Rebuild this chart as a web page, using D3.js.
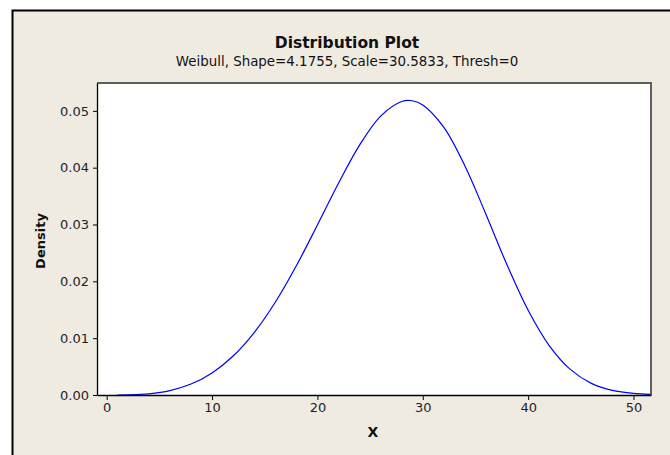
<!DOCTYPE html>
<html lang="en">
<head>
    <meta charset="UTF-8">
    <title>Distribution Plot</title>
    <script src="https://cdn.jsdelivr.net/npm/d3@7"></script>
    <style>
        * { padding: 0; margin: 0; }
        body { background: #fff; }
        svg { display: block; }
        text { font-family: "DejaVu Sans", Verdana, sans-serif; }
    </style>
</head>
<body>
    <div class="context"></div>
    <script>
        // values (x, density)
        let xs = [1, 2, 4, 6, 8, 10, 12, 14, 16, 18, 20, 22, 24, 26, 28, 29, 30, 32, 34, 36, 38, 40, 42, 44, 46, 48, 50, 52];
        let ys = [0.000003, 0.000024, 0.000214, 0.000774, 0.001924, 0.003885, 0.006859, 0.010988, 0.01632, 0.022738,
            0.029907, 0.037254, 0.043964, 0.049075, 0.051652, 0.051771, 0.051041, 0.047095, 0.040313, 0.031774,
            0.022876, 0.014906, 0.008701, 0.004502, 0.002045, 0.000803, 0.00027, 0.000077];
        let xTicks = [0, 10, 20, 30, 40, 50];
        let yTicks = [0, 0.01, 0.02, 0.03, 0.04, 0.05];

        let W = 670, H = 455;
        let plot = { left: 97, top: 83, right: 651, bottom: 395 };

        var svg = d3.select(".context").append("svg")
            .attr("width", W)
            .attr("height", H);

        // beige frame
        svg.append("rect")
            .attr("x", 12.5).attr("y", 10.5)
            .attr("width", W + 20).attr("height", H + 20)
            .attr("fill", "#efebe1")
            .attr("stroke", "#000")
            .attr("stroke-width", 2);

        let x = d3.scaleLinear().domain([-0.92, 51.66]).range([plot.left, plot.right]);
        let y = d3.scaleLinear().domain([0, 0.0549]).range([plot.bottom, plot.top]);

        svg.append("rect")
            .attr("x", plot.left).attr("y", plot.top)
            .attr("width", plot.right - plot.left).attr("height", plot.bottom - plot.top)
            .attr("fill", "#fff");

        svg.append("defs").append("clipPath").attr("id", "clip")
            .append("rect")
            .attr("x", plot.left).attr("y", plot.top)
            .attr("width", plot.right - plot.left).attr("height", plot.bottom - plot.top);

        let pts = xs.map((d, i) => [d, ys[i]]);
        let line = d3.line()
            .x(d => x(d[0]))
            .y(d => y(d[1]))
            .curve(d3.curveCatmullRom);

        svg.append("path")
            .attr("clip-path", "url(#clip)")
            .attr("d", line(pts))
            .attr("fill", "none")
            .attr("stroke", "#0000ff")
            .attr("stroke-width", 1.2);

        // top / right border (grey)
        svg.append("path")
            .attr("d", `M${plot.left},${plot.top}H${plot.right}V${plot.bottom}`)
            .attr("fill", "none")
            .attr("stroke", "#5f5f5f")
            .attr("stroke-width", 2);

        let xAxis = svg.append("g")
            .attr("transform", `translate(0,${plot.bottom})`)
            .call(d3.axisBottom(x).tickValues(xTicks).tickSize(5).tickSizeOuter(0).tickPadding(3).tickFormat(d3.format("d")));

        let yAxis = svg.append("g")
            .attr("transform", `translate(${plot.left},0)`)
            .call(d3.axisLeft(y).tickValues(yTicks).tickSize(4).tickSizeOuter(0).tickPadding(4).tickFormat(d3.format(".2f")));

        [xAxis, yAxis].forEach(g => {
            g.select(".domain").attr("stroke", "#000").attr("stroke-width", 1.3);
            g.selectAll(".tick line").attr("stroke", "#000");
            g.selectAll("text")
                .attr("font-family", "DejaVu Sans, Verdana, sans-serif")
                .attr("font-size", 13)
                .attr("fill", "#1e1e2a");
        });

        svg.append("text")
            .attr("x", 347).attr("y", 48)
            .attr("text-anchor", "middle")
            .attr("font-size", 15.5)
            .attr("font-weight", "bold")
            .attr("fill", "#111")
            .text("Distribution Plot");

        svg.append("text")
            .attr("x", 347).attr("y", 66)
            .attr("text-anchor", "middle")
            .attr("font-size", 13.4)
            .attr("fill", "#111")
            .text("Weibull, Shape=4.1755, Scale=30.5833, Thresh=0");

        svg.append("text")
            .attr("x", 373).attr("y", 437)
            .attr("text-anchor", "middle")
            .attr("font-size", 14)
            .attr("font-weight", "bold")
            .attr("fill", "#111")
            .text("X");

        svg.append("text")
            .attr("transform", "translate(45,241) rotate(-90)")
            .attr("text-anchor", "middle")
            .attr("font-size", 13)
            .attr("font-weight", "bold")
            .attr("fill", "#111")
            .text("Density");
    </script>
</body>
</html>
